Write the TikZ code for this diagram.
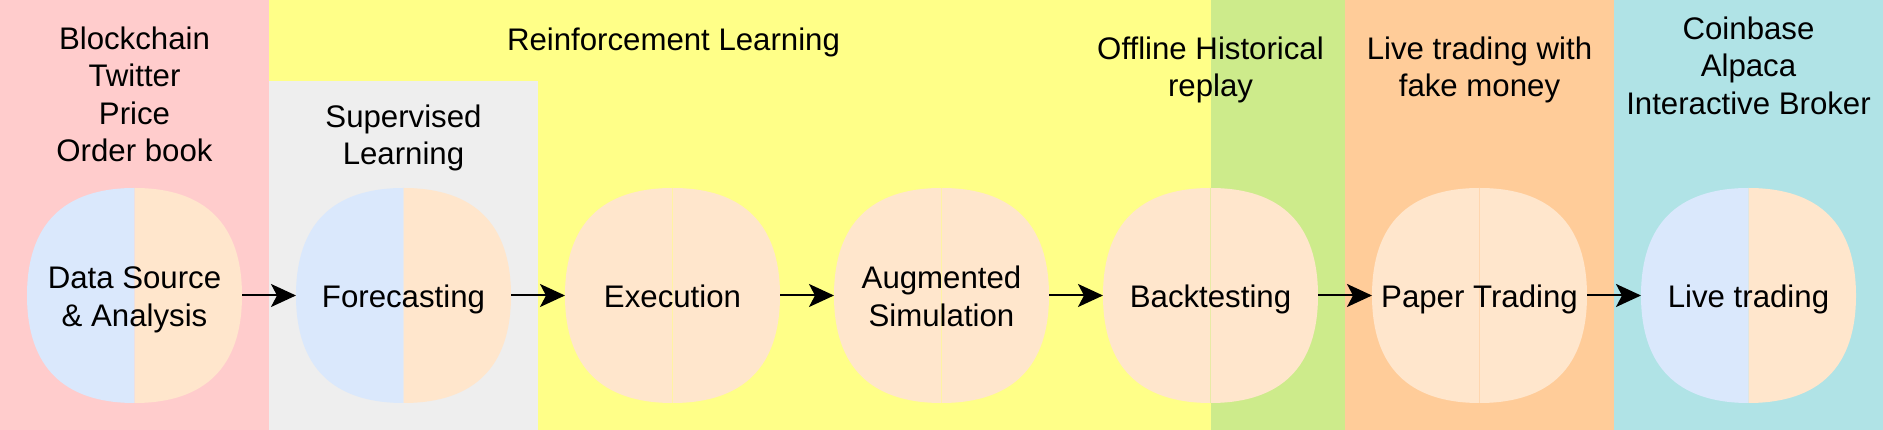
\documentclass[tikz,border=0pt]{standalone}
\usepackage{fontspec}
\setmainfont{Liberation Sans}
\usetikzlibrary{arrows.meta}
\definecolor{bgpink}{HTML}{FFCCCC}
\definecolor{bgyellow}{HTML}{FFFF88}
\definecolor{bggray}{HTML}{EEEEEE}
\definecolor{bggreen}{HTML}{CDEB8B}
\definecolor{bgorange}{HTML}{FFCC99}
\definecolor{bgcyan}{HTML}{B0E3E6}
\definecolor{halfblue}{HTML}{DAE8FC}
\definecolor{halforange}{HTML}{FFE6CC}
\tikzset{
  lbl/.style={font=\fontsize{31.2}{37.4}\selectfont, align=center, inner sep=0pt, text=black},
  blobbox/.style={minimum width=215pt, minimum height=215pt, inner sep=0pt, outer sep=0pt},
  flow/.style={line width=2pt, -{Stealth[length=25pt, width=23pt, inset=6pt]}},
  seam/.style={line width=0.8pt, opacity=0.45},
}
\newcommand{\drawblob}[3]{%
  \begin{scope}[shift={(#1.center)}]
    \fill[#2] (0,107.5) .. controls (-71,107.5) and (-107.5,71) .. (-107.5,0)
      .. controls (-107.5,-71) and (-71,-107.5) .. (0,-107.5) -- cycle;
    \fill[#3] (0,107.5) .. controls (71,107.5) and (107.5,71) .. (107.5,0)
      .. controls (107.5,-71) and (71,-107.5) .. (0,-107.5) -- cycle;
  \end{scope}}
\begin{document}
\begin{tikzpicture}[x=1pt,y=1pt]
\useasboundingbox (0,0) rectangle (1883,430);
% background columns
\fill[bgpink] (0,0) rectangle (269,430);
\fill[bgyellow] (269,0) rectangle (1211,430);
\fill[bggray] (269,0) rectangle (538,349.3);
\fill[bggreen] (1211,0) rectangle (1345,430);
\fill[bgorange] (1345,0) rectangle (1614,430);
\fill[bgcyan] (1614,0) rectangle (1883,430);
% column headings
\node[lbl] (srcl) at (134.5,332) {\strut Blockchain\\\strut Twitter\\\strut Price\\\strut Order book};
\node[lbl] (rll) at (673.5,386.8) {\strut Reinforcement Learning};
\node[lbl] (sll) at (403.5,291.5) {\strut Supervised\\\strut Learning};
\node[lbl] (ohl) at (1210.5,359.5) {\strut Offline Historical\\\strut replay};
\node[lbl] (ltl) at (1479.5,359.5) {\strut Live trading with\\\strut fake money};
\node[lbl] (cbl) at (1748.5,360.8) {\strut Coinbase\\\strut Alpaca\\\strut Interactive Broker};
% stage nodes
\node[blobbox] (ds) at (134.5,134.5) {};
\node[blobbox] (fc) at (403.5,134.5) {};
\node[blobbox] (ex) at (672.5,134.5) {};
\node[blobbox] (as) at (941.5,134.5) {};
\node[blobbox] (bt) at (1210.5,134.5) {};
\node[blobbox] (pt) at (1479.5,134.5) {};
\node[blobbox] (lt) at (1748.5,134.5) {};
\drawblob{ds}{halfblue}{halforange}
\drawblob{fc}{halfblue}{halforange}
\drawblob{ex}{halforange}{halforange}
\drawblob{as}{halforange}{halforange}
\drawblob{bt}{halforange}{halforange}
\drawblob{pt}{halforange}{halforange}
\drawblob{lt}{halfblue}{halforange}
\draw[seam, bgyellow] (ex.north) -- (ex.south);
\draw[seam, bgyellow] (as.north) -- (as.south);
\draw[seam, bggreen] (bt.north) -- (bt.south);
\draw[seam, bgorange] (pt.north) -- (pt.south);
% stage labels
\node[lbl] (dsl) at ([yshift=-4.5pt]ds.center) {\strut Data Source\\\strut \& Analysis};
\node[lbl] (fcl) at ([yshift=-4.5pt]fc.center) {\strut Forecasting};
\node[lbl] (exl) at ([yshift=-4.5pt]ex.center) {\strut Execution};
\node[lbl] (asl) at ([yshift=-4.5pt]as.center) {\strut Augmented\\\strut Simulation};
\node[lbl] (btl) at ([yshift=-4.5pt]bt.center) {\strut Backtesting};
\node[lbl] (ptl) at ([yshift=-4.5pt]pt.center) {\strut Paper Trading};
\node[lbl] (ltl2) at ([yshift=-4.5pt]lt.center) {\strut Live trading};
% connectors
\draw[flow] (ds.east) -- (fc.west);
\draw[flow] (fc.east) -- (ex.west);
\draw[flow] (ex.east) -- (as.west);
\draw[flow] (as.east) -- (bt.west);
\draw[flow] (bt.east) -- (pt.west);
\draw[flow] (pt.east) -- (lt.west);
\end{tikzpicture}
\end{document}
